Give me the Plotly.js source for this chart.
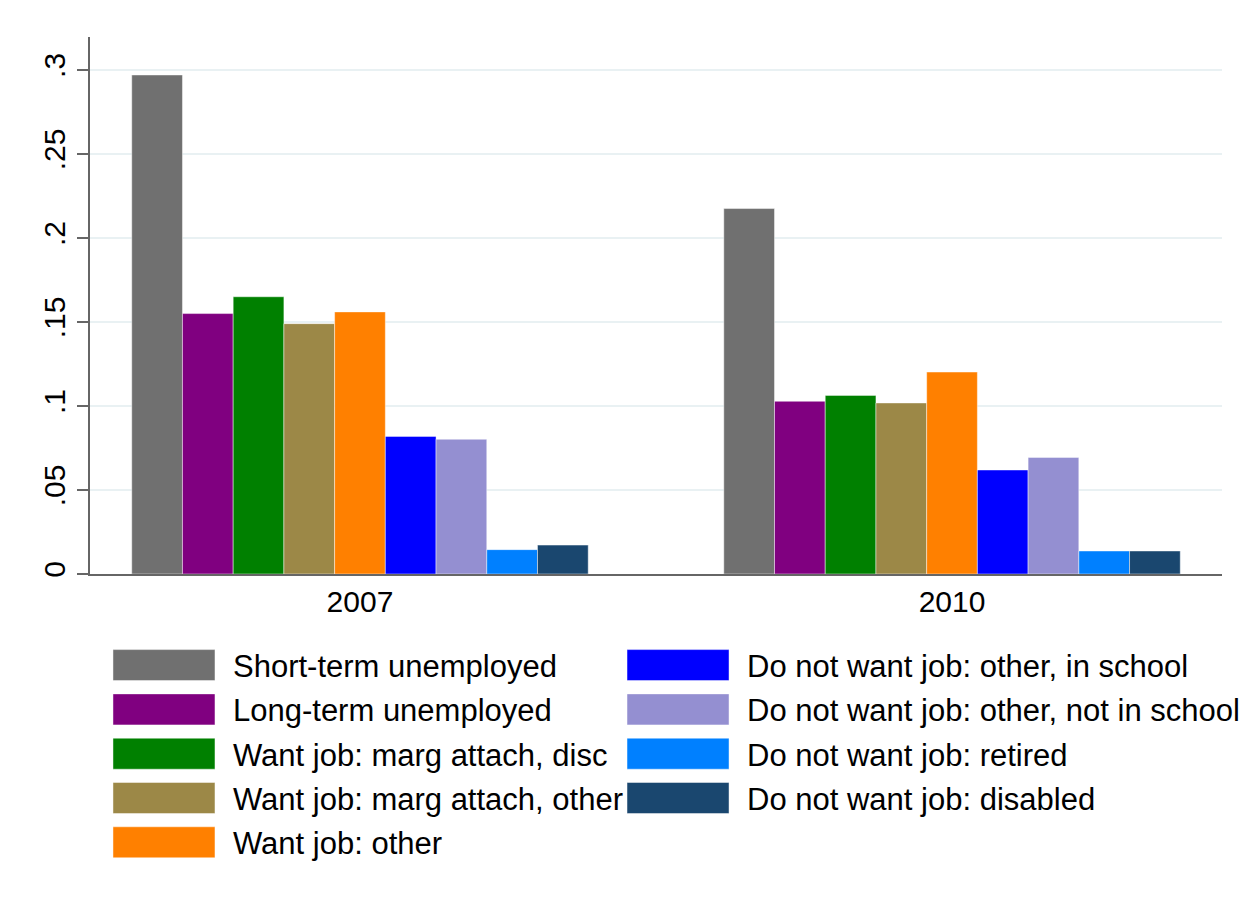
<!DOCTYPE html>
<html>
<head>
<meta charset="utf-8">
<script src="https://cdn.plot.ly/plotly-3.0.1.min.js"></script>
<style>html,body{margin:0;padding:0;background:#fff;}#chart{width:1252px;height:911px;}</style>
</head>
<body>
<div id="chart"></div>
<script>
// ---- data ----
const years = ['2007', '2010'];
const seriesNames = [
  'Short-term unemployed',
  'Long-term unemployed',
  'Want job: marg attach, disc',
  'Want job: marg attach, other',
  'Want job: other',
  'Do not want job: other, in school',
  'Do not want job: other, not in school',
  'Do not want job: retired',
  'Do not want job: disabled'
];
const shortTerm   = [0.297, 0.2175];
const longTerm    = [0.155, 0.1028];
const margDisc    = [0.165, 0.1063];
const margOther   = [0.149, 0.1018];
const wantOther   = [0.156, 0.1202];
const inSchool    = [0.0819, 0.0619];
const notInSchool = [0.0802, 0.0694];
const retired     = [0.0145, 0.0137];
const disabled    = [0.0172, 0.0137];
const yTickVals   = [0, 0.05, 0.1, 0.15, 0.2, 0.25, 0.3];
const yTickText   = ['0', '.05', '.1', '.15', '.2', '.25', '.3'];

// ---- styles ----
const seriesValues = [shortTerm, longTerm, margDisc, margOther, wantOther, inSchool, notInSchool, retired, disabled];
const colors = ['#707070', '#800080', '#008000', '#9c8847', '#ff8000', '#0000ff', '#948fd1', '#0080ff', '#1a476f'];

const traces = seriesNames.map((name, i) => ({
  type: 'bar',
  name: name,
  x: years,
  y: seriesValues[i],
  marker: {color: colors[i], line: {color: 'rgba(255,255,255,0.45)', width: 1}},
  legend: i < 5 ? 'legend' : 'legend2',
  legendgroup: 'g' + i,
  hoverinfo: 'name+y'
}));

const font = {family: 'Liberation Sans, Arial, Helvetica, sans-serif', color: '#000'};
const legendCommon = {
  orientation: 'v', xanchor: 'left', yanchor: 'top',
  font: Object.assign({}, font, {size: 31}),
  itemwidth: 128, bgcolor: 'rgba(0,0,0,0)', borderwidth: 0,
  traceorder: 'grouped', tracegroupgap: 1,
  itemclick: false, itemdoubleclick: false
};

const layout = {
  width: 1252, height: 911,
  paper_bgcolor: '#fff', plot_bgcolor: '#fff',
  margin: {l: 90, r: 30, t: 37, b: 337, autoexpand: false},
  font: font,
  barmode: 'group', bargap: 0.229, bargroupgap: 0,
  xaxis: {
    type: 'category', range: [-0.456, 1.456],
    showline: true, linecolor: '#666', linewidth: 2,
    ticks: '', showgrid: false, zeroline: false,
    tickfont: Object.assign({}, font, {size: 30}),
    ticklabelstandoff: 0
  },
  yaxis: {
    range: [0, 0.3196],
    tickvals: yTickVals, ticktext: yTickText,
    tickangle: -90,
    ticks: 'outside', ticklen: 11, tickwidth: 2, tickcolor: '#666',
    showline: true, linecolor: '#666', linewidth: 2,
    showgrid: true, gridcolor: '#e9f1f3', gridwidth: 2,
    zeroline: false,
    tickfont: Object.assign({}, font, {size: 30}),
    ticklabelstandoff: 0
  },
  legend: Object.assign({}, legendCommon, {x: 0.0044, y: -0.120}),
  legend2: Object.assign({}, legendCommon, {x: 0.4585, y: -0.120}),
  showlegend: true
};

function bigSwatches() {
  document.querySelectorAll('g.legendpoints path').forEach(p => {
    const d = p.getAttribute('d') || '';
    if (d.indexOf('M6,6') === 0 || d.indexOf('M51') === 0) {
      p.setAttribute('d', 'M51,15.5H-51V-15.5H51Z');
    }
  });
}

const gd = document.getElementById('chart');
Plotly.newPlot(gd, traces, layout, {displayModeBar: false}).then(() => {
  bigSwatches();
  gd.on('plotly_afterplot', bigSwatches);
  setTimeout(bigSwatches, 200);
  setTimeout(bigSwatches, 800);
});
</script>
</body>
</html>
